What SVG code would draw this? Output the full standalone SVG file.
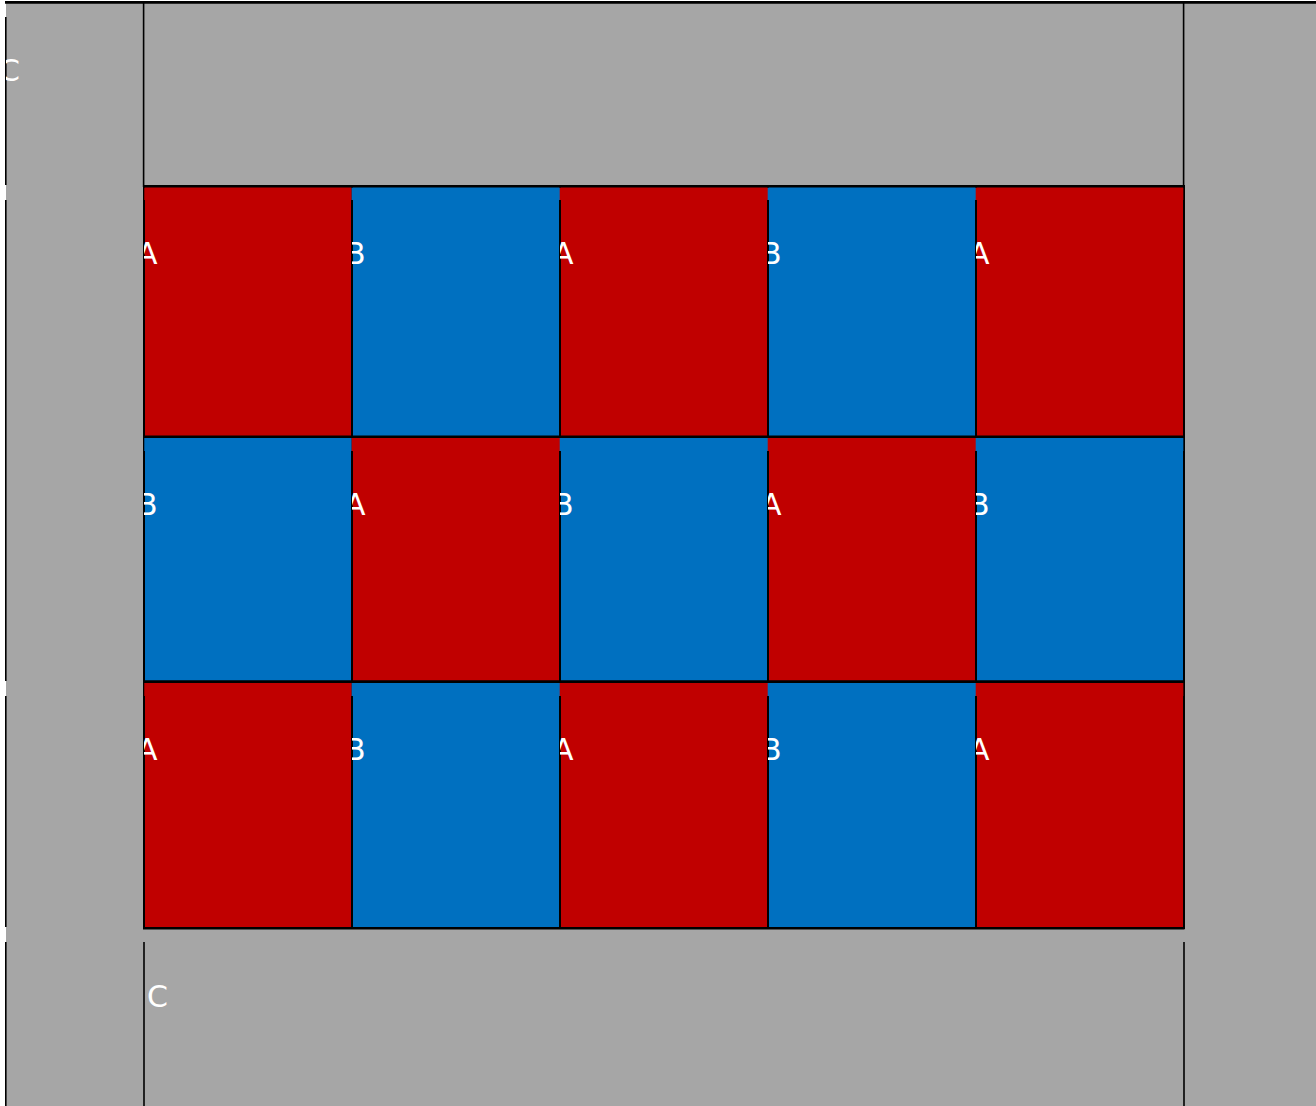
<svg xmlns="http://www.w3.org/2000/svg" width="1316" height="1106" viewBox="0 0 1316 1106">
<style>
.g{fill:#A6A6A6}
.r{fill:#C00000}
.b{fill:#0070C0}
.cell{stroke:#000;stroke-width:2}
.ln{stroke:#000;stroke-width:1.6;fill:none}
.hl{stroke:#000;stroke-width:2.6;fill:none}
.lbl{fill:#fff;font-family:"DejaVu Sans",sans-serif;font-size:30px}
</style>
<rect x="0" y="0" width="1316" height="1106" fill="#fff"/>
<g id="connectors"></g>
<g id="background">
<rect class="g" x="6" y="3" width="1310" height="1103"/>
</g>
<g id="cells">
<rect class="r cell" x="144" y="186" width="208" height="251"/>
<rect class="b cell" x="352" y="186" width="208" height="251"/>
<rect class="r cell" x="560" y="186" width="208" height="251"/>
<rect class="b cell" x="768" y="186" width="208" height="251"/>
<rect class="r cell" x="976" y="186" width="208" height="251"/>
<rect class="b cell" x="144" y="437" width="208" height="245"/>
<rect class="r cell" x="352" y="437" width="208" height="245"/>
<rect class="b cell" x="560" y="437" width="208" height="245"/>
<rect class="r cell" x="768" y="437" width="208" height="245"/>
<rect class="b cell" x="976" y="437" width="208" height="245"/>
<rect class="r cell" x="144" y="682" width="208" height="246"/>
<rect class="b cell" x="352" y="682" width="208" height="246"/>
<rect class="r cell" x="560" y="682" width="208" height="246"/>
<rect class="b cell" x="768" y="682" width="208" height="246"/>
<rect class="r cell" x="976" y="682" width="208" height="246"/>
</g>
<g id="patches">
<rect class="r" x="144.3" y="187.5" width="207.4" height="12.5"/>
<rect class="b" x="351.7" y="187.5" width="208.3" height="12.5"/>
<rect class="r" x="559.7" y="187.5" width="208.3" height="12.5"/>
<rect class="b" x="767.7" y="187.5" width="208.3" height="12.5"/>
<rect class="r" x="975.7" y="187.5" width="207.6" height="12.5"/>
<rect class="b" x="144.3" y="438" width="207.4" height="13"/>
<rect class="r" x="351.7" y="438" width="208.3" height="13"/>
<rect class="b" x="559.7" y="438" width="208.3" height="13"/>
<rect class="r" x="767.7" y="438" width="208.3" height="13"/>
<rect class="b" x="975.7" y="438" width="207.6" height="13"/>
<rect class="r" x="144.3" y="683" width="207.4" height="13"/>
<rect class="b" x="351.7" y="683" width="208.3" height="13"/>
<rect class="r" x="559.7" y="683" width="208.3" height="13"/>
<rect class="b" x="767.7" y="683" width="208.3" height="13"/>
<rect class="r" x="975.7" y="683" width="207.6" height="13"/>
</g>
<g id="lines">
<line class="ln" x1="5" y1="2.4" x2="1316" y2="2.4" style="stroke-width:2.8"/>
<line class="ln" x1="5.8" y1="17" x2="5.8" y2="185"/>
<line class="ln" x1="5.8" y1="200" x2="5.8" y2="681"/>
<line class="ln" x1="5.8" y1="696" x2="5.8" y2="927"/>
<line class="ln" x1="5.8" y1="942" x2="5.8" y2="1106"/>
<line class="ln" x1="143.6" y1="3" x2="143.6" y2="187"/>
<line class="ln" x1="144" y1="942" x2="144" y2="1106"/>
<line class="ln" x1="1183.6" y1="3" x2="1183.6" y2="187"/>
<line class="ln" x1="1184" y1="942" x2="1184" y2="1106"/>
<line class="hl" x1="143" y1="186.2" x2="1184.5" y2="186.2"/>
<line class="hl" x1="143" y1="436.8" x2="1184.5" y2="436.8"/>
<line class="hl" x1="143" y1="681.6" x2="1184.5" y2="681.6"/>
<line class="hl" x1="143" y1="928.2" x2="1184.5" y2="928.2"/>
</g>
<g id="labels">
<g id="cell-left"><svg x="6" y="3" width="138" height="183"><text class="lbl" x="-7" y="78">C</text></svg></g>
<g id="cell-r1c1"><svg x="144" y="186" width="208" height="251"><text class="lbl" x="-7" y="78">A</text></svg></g>
<g id="cell-r1c2"><svg x="352" y="186" width="208" height="251"><text class="lbl" x="-7" y="78">B</text></svg></g>
<g id="cell-r1c3"><svg x="560" y="186" width="208" height="251"><text class="lbl" x="-7" y="78">A</text></svg></g>
<g id="cell-r1c4"><svg x="768" y="186" width="208" height="251"><text class="lbl" x="-7" y="78">B</text></svg></g>
<g id="cell-r1c5"><svg x="976" y="186" width="208" height="251"><text class="lbl" x="-7" y="78">A</text></svg></g>
<g id="cell-r2c1"><svg x="144" y="437" width="208" height="245"><text class="lbl" x="-7" y="78">B</text></svg></g>
<g id="cell-r2c2"><svg x="352" y="437" width="208" height="245"><text class="lbl" x="-7" y="78">A</text></svg></g>
<g id="cell-r2c3"><svg x="560" y="437" width="208" height="245"><text class="lbl" x="-7" y="78">B</text></svg></g>
<g id="cell-r2c4"><svg x="768" y="437" width="208" height="245"><text class="lbl" x="-7" y="78">A</text></svg></g>
<g id="cell-r2c5"><svg x="976" y="437" width="208" height="245"><text class="lbl" x="-7" y="78">B</text></svg></g>
<g id="cell-r3c1"><svg x="144" y="682" width="208" height="246"><text class="lbl" x="-7" y="78">A</text></svg></g>
<g id="cell-r3c2"><svg x="352" y="682" width="208" height="246"><text class="lbl" x="-7" y="78">B</text></svg></g>
<g id="cell-r3c3"><svg x="560" y="682" width="208" height="246"><text class="lbl" x="-7" y="78">A</text></svg></g>
<g id="cell-r3c4"><svg x="768" y="682" width="208" height="246"><text class="lbl" x="-7" y="78">B</text></svg></g>
<g id="cell-r3c5"><svg x="976" y="682" width="208" height="246"><text class="lbl" x="-7" y="78">A</text></svg></g>
<g id="cell-bottom"><text class="lbl" x="147" y="1007">C</text></g>
</g>
</svg>
